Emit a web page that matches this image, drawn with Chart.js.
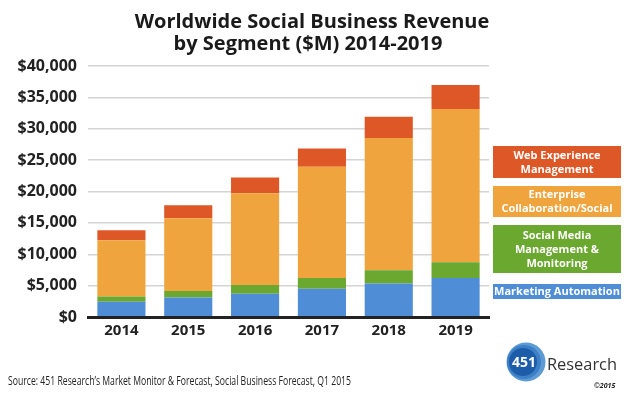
<!DOCTYPE html>
<html>
<head>
<meta charset="utf-8">
<script src="https://cdn.jsdelivr.net/npm/chart.js@4"></script>
<style>
html,body{margin:0;padding:0;background:#fff;}
#wrap{width:632px;height:398px;position:relative;}
</style>
</head>
<body>
<div id="wrap"><canvas id="c" width="632" height="398"></canvas></div>
<script>
// ---- data ----
const titleLines = ["Worldwide Social Business Revenue", "by Segment ($M) 2014-2019"];
const years = ["2014", "2015", "2016", "2017", "2018", "2019"];
const marketingAutomation = [2450, 3090, 3720, 4520, 5320, 6220];
const socialMedia = [800, 1060, 1380, 1700, 2130, 2500];
const enterpriseCollab = [8990, 11600, 14630, 17710, 21060, 24420];
const webExperience = [1600, 2070, 2500, 2930, 3400, 3830];
const seriesNames = ["Marketing Automation", "Social Media Management & Monitoring", "Enterprise Collaboration/Social", "Web Experience Management"];
const legendLines = [
  ["Marketing Automation"],
  ["Social Media", "Management &", "Monitoring"],
  ["Enterprise", "Collaboration/Social"],
  ["Web Experience", "Management"]
];
const yTicks = [0, 5000, 10000, 15000, 20000, 25000, 30000, 35000, 40000];
const sourceText = "Source: 451 Research\u2019s Market Monitor & Forecast, Social Business Forecast, Q1 2015";
const logoNumber = "451";
const logoWord = "Research";
const copyrightText = "\u00a92015";

// ---- styles ----
const colors = ["#4F8ED6", "#6AA82F", "#F0A43D", "#DE5827"];
const FONT = "'Open Sans', 'DejaVu Sans', sans-serif";

const overlay = {
  id: 'overlay',
  afterDraw(chart) {
    const ctx = chart.ctx;
    ctx.save();
    // title
    ctx.fillStyle = '#1a1a1a';
    ctx.font = 'bold 20px ' + FONT;
    ctx.textAlign = 'center';
    ctx.textBaseline = 'alphabetic';
    ctx.fillText(titleLines[0], 312, 28);
    ctx.fillText(titleLines[1], 308, 50);

    // legend boxes (top to bottom: reversed series order)
    const boxes = [
      {y: 284, h: 15},
      {y: 225, h: 48},
      {y: 186, h: 31},
      {y: 146, h: 32}
    ];
    const bx = 493, bw = 128;
    ctx.font = 'bold 11px ' + FONT;
    ctx.textAlign = 'center';
    ctx.textBaseline = 'middle';
    for (let i = 0; i < boxes.length; i++) {
      const b = boxes[i];
      ctx.fillStyle = chart.data.datasets[i].backgroundColor;
      ctx.fillRect(bx, b.y, bw, b.h);
      ctx.fillStyle = '#ffffff';
      const lines = legendLines[i];
      const lh = 14;
      const startY = b.y + b.h / 2 - (lines.length - 1) * lh / 2;
      lines.forEach((ln, k) => ctx.fillText(ln, bx + bw / 2, startY + k * lh + 0.5));
    }

    // source text
    ctx.fillStyle = '#222';
    ctx.textAlign = 'left';
    ctx.textBaseline = 'alphabetic';
    ctx.font = '13px ' + FONT;
    const w = ctx.measureText(sourceText).width;
    const target = 343;
    ctx.save();
    ctx.translate(8, 385);
    ctx.scale(target / w, 1);
    ctx.fillText(sourceText, 0, 0);
    ctx.restore();

    // logo
    ctx.fillStyle = '#5C9BD6';
    ctx.beginPath(); ctx.arc(526, 362, 19.5, 0, Math.PI * 2); ctx.fill();
    ctx.fillStyle = '#3E80C6';
    ctx.beginPath(); ctx.arc(524, 362, 17, 0, Math.PI * 2); ctx.fill();
    ctx.fillStyle = '#1C5CA8';
    ctx.beginPath(); ctx.arc(523, 362, 14, 0, Math.PI * 2); ctx.fill();
    ctx.fillStyle = '#ffffff';
    ctx.font = 'bold 14px ' + FONT;
    ctx.textAlign = 'center';
    ctx.textBaseline = 'middle';
    ctx.fillText(logoNumber, 524, 363);
    ctx.fillStyle = '#333';
    ctx.textAlign = 'left';
    ctx.textBaseline = 'alphabetic';
    ctx.font = '17px ' + FONT;
    const rw = ctx.measureText(logoWord).width;
    ctx.save();
    ctx.translate(547, 370);
    ctx.scale(70 / rw, 1);
    ctx.fillText(logoWord, 0, 0);
    ctx.restore();
    ctx.font = 'italic bold 7px ' + FONT;
    ctx.fillStyle = '#222';
    ctx.fillText(copyrightText, 594, 388);
    ctx.restore();
  }
};

new Chart(document.getElementById('c'), {
  type: 'bar',
  data: {
    labels: years,
    datasets: [
      {label: seriesNames[0], data: marketingAutomation, backgroundColor: colors[0]},
      {label: seriesNames[1], data: socialMedia, backgroundColor: colors[1]},
      {label: seriesNames[2], data: enterpriseCollab, backgroundColor: colors[2]},
      {label: seriesNames[3], data: webExperience, backgroundColor: colors[3]}
    ]
  },
  options: {
    responsive: false,
    animation: false,
    layout: {padding: {top: 66, right: 143, bottom: 0, left: 0}},
    datasets: {bar: {barPercentage: 0.72, categoryPercentage: 1, borderWidth: 0}},
    plugins: {legend: {display: false}, title: {display: false}, tooltip: {enabled: false}},
    scales: {
      x: {
        stacked: true,
        grid: {display: false, drawTicks: false},
        border: {display: true, color: '#222', width: 3, z: 1},
        ticks: {color: '#222', font: {family: FONT, size: 15, weight: 'bold'}, padding: 5},
        afterFit(s) { s.height = 81; }
      },
      y: {
        stacked: true,
        min: 0, max: 40000,
        afterBuildTicks(s) { s.ticks = yTicks.map(v => ({value: v})); },
        grid: {color: '#d4d4d4', lineWidth: 1.5, drawTicks: false},
        border: {display: false},
        ticks: {
          color: '#222', padding: 11,
          font: {family: FONT, size: 16, weight: 'bold'},
          callback: v => '$' + Number(v).toLocaleString('en-US')
        },
        afterFit(s) { s.width = 88; }
      }
    }
  },
  plugins: [overlay]
});
</script>
</body>
</html>
